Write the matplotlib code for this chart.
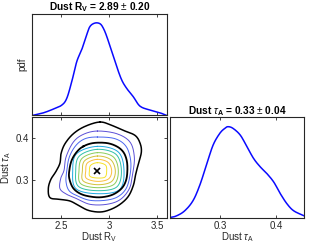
import numpy as np
import matplotlib
matplotlib.use("Agg")
import matplotlib.pyplot as plt

plt.rcParams['font.family'] = ['Liberation Sans', 'DejaVu Sans']
plt.rcParams['mathtext.fontset'] = 'custom'
plt.rcParams['mathtext.rm'] = 'Liberation Sans'
plt.rcParams['mathtext.it'] = 'Liberation Sans:italic'
plt.rcParams['mathtext.bf'] = 'Liberation Sans:bold'

# ---- 1D marginal: Dust R_V ----
rv_x = [2.203, 2.317, 2.421, 2.508, 2.560, 2.612, 2.664, 2.715, 2.767, 2.802, 2.853,
        2.905, 2.939, 2.975, 3.026, 3.078, 3.130, 3.182, 3.250, 3.320, 3.424, 3.528, 3.597]
rv_pdf = [0.0, 0.057, 0.139, 0.224, 0.370, 0.733, 1.168, 1.423, 1.749, 1.932, 2.004,
          1.989, 1.894, 1.714, 1.386, 1.060, 0.770, 0.587, 0.407, 0.202, 0.117, 0.057, 0.0]

# ---- 1D marginal: Dust tau_A ----
tau_x = [0.209, 0.221, 0.236, 0.251, 0.263, 0.275, 0.287, 0.299, 0.308, 0.314, 0.323,
         0.336, 0.348, 0.360, 0.372, 0.384, 0.396, 0.408, 0.420, 0.432, 0.451]
tau_pdf = [0.08, 0.25, 0.80, 1.90, 3.55, 5.75, 7.95, 9.24, 9.79, 9.98, 9.79,
           9.05, 7.78, 6.49, 5.58, 4.84, 3.93, 2.64, 1.54, 0.80, 0.25]

# ---- 2D joint contours (outlines, data units) ----
outer_x = [2.905, 3.026, 3.147, 3.268, 3.320, 3.334, 3.303, 3.275, 3.251, 3.199, 3.113, 3.009,
           2.905, 2.784, 2.681, 2.594, 2.490, 2.387, 2.369, 2.394, 2.449, 2.490, 2.501, 2.542,
           2.629, 2.750]
outer_y = [0.4388, 0.4309, 0.4190, 0.4071, 0.3889, 0.3675, 0.3398, 0.3145, 0.2883, 0.2622,
           0.2432, 0.2305, 0.2250, 0.2289, 0.2408, 0.2511, 0.2551, 0.2590, 0.2804, 0.3018,
           0.3216, 0.3414, 0.3636, 0.3873, 0.4111, 0.4285]

inner_x = [2.732, 2.836, 2.974, 3.078, 3.147, 3.182, 3.189, 3.175, 3.130, 3.044, 2.940, 2.836,
           2.715, 2.629, 2.587, 2.587, 2.611, 2.663]
inner_y = [0.3810, 0.3889, 0.3889, 0.3810, 0.3675, 0.3477, 0.3240, 0.3002, 0.2812, 0.2670,
           0.2606, 0.2606, 0.2670, 0.2812, 0.3042, 0.3240, 0.3477, 0.3675]

purple_x = [2.878, 3.078, 3.216, 3.261, 3.244, 3.209, 3.113, 2.974, 2.802, 2.663, 2.560, 2.490,
            2.497, 2.532, 2.553, 2.629, 2.732]
purple_y = [0.4174, 0.4111, 0.3913, 0.3557, 0.3161, 0.2804, 0.2543, 0.2432, 0.2432, 0.2567,
            0.2670, 0.2804, 0.3042, 0.3240, 0.3557, 0.3913, 0.4095]
blue_x = [2.878, 3.061, 3.175, 3.223, 3.216, 3.175, 3.085, 2.957, 2.802, 2.681, 2.587, 2.553,
          2.560, 2.587, 2.656, 2.750]
blue_y = [0.4032, 0.3992, 0.3810, 0.3477, 0.3121, 0.2804, 0.2606, 0.2527, 0.2527, 0.2622,
          0.2749, 0.2963, 0.3224, 0.3557, 0.3834, 0.3992]
cyan_x = [2.878, 3.095, 3.154, 3.106, 2.878, 2.656, 2.622, 2.663]
cyan_y = [0.3810, 0.3675, 0.3224, 0.2780, 0.2685, 0.2804, 0.3224, 0.3636]
teal_x = [2.878, 3.071, 3.127, 3.078, 2.878, 2.681, 2.653, 2.691]
teal_y = [0.3739, 0.3620, 0.3224, 0.2844, 0.2757, 0.2860, 0.3224, 0.3580]
green_x = [2.878, 3.044, 3.095, 3.050, 2.878, 2.705, 2.687, 2.719]
green_y = [0.3660, 0.3557, 0.3224, 0.2907, 0.2828, 0.2923, 0.3224, 0.3525]
yg_x = [2.878, 3.016, 3.064, 3.023, 2.878, 2.732, 2.722, 2.746]
yg_y = [0.3580, 0.3493, 0.3224, 0.2971, 0.2899, 0.2986, 0.3224, 0.3469]
orange_x = [2.878, 2.988, 3.026, 2.992, 2.878, 2.764, 2.757, 2.774]
orange_y = [0.3501, 0.3430, 0.3224, 0.3034, 0.2978, 0.3050, 0.3224, 0.3414]
yellow_x = [2.878, 2.961, 2.974, 2.957, 2.878, 2.802, 2.795, 2.808]
yellow_y = [0.3422, 0.3367, 0.3224, 0.3081, 0.3058, 0.3097, 0.3224, 0.3359]

colored_rings = [(purple_x, purple_y, '#5b4fd6'), (blue_x, blue_y, '#4a66f0'),
                 (cyan_x, cyan_y, '#1ea8e0'), (teal_x, teal_y, '#30c0a8'),
                 (green_x, green_y, '#8ccc5a'), (yg_x, yg_y, '#d2c23a'),
                 (orange_x, orange_y, '#fbbf3e'), (yellow_x, yellow_y, '#f5e228')]

best_rv, best_tau = 2.878, 0.3224

title_rv = r"Dust R$_{\mathbf{V}}$ = 2.89 $\pm$ 0.20"
title_tau = r"Dust $\tau_{\mathbf{A}}$ = 0.33 $\pm$ 0.04"
xlabel_rv = r"Dust R$_\mathrm{V}$"
ylabel_tau = r"Dust $\tau_\mathrm{A}$"
xlabel_tau = r"Dust $\tau_\mathrm{A}$"

rv_lim = (2.2, 3.6)
tau_lim = (0.21, 0.45)
rv_ticks = [2.5, 3, 3.5]
rv_ticklabels = ['2.5', '3', '3.5']
tau_ticks = [0.3, 0.4]
tau_ticklabels = ['0.3', '0.4']


def _cr(p0, p1, p2, p3, n):
    t = np.linspace(0, 1, n, endpoint=False)[:, None]
    return 0.5 * ((2 * p1) + (-p0 + p2) * t + (2 * p0 - 5 * p1 + 4 * p2 - p3) * t ** 2
                  + (-p0 + 3 * p1 - 3 * p2 + p3) * t ** 3)


def closed_curve(xs, ys, n=14):
    p = np.column_stack([xs, ys])
    m = len(p)
    out = [_cr(p[(i - 1) % m], p[i], p[(i + 1) % m], p[(i + 2) % m], n) for i in range(m)]
    out.append(p[:1])
    out = np.vstack(out)
    return out[:, 0], out[:, 1]


def open_curve(xs, ys, n=10):
    p = np.column_stack([xs, ys]).astype(float)
    m = len(p)
    ext = np.vstack([2 * p[0] - p[1], p, 2 * p[-1] - p[-2]])
    out = [_cr(ext[i], ext[i + 1], ext[i + 2], ext[i + 3], n) for i in range(m - 1)]
    out.append(p[-1:])
    out = np.vstack(out)
    return out[:, 0], out[:, 1]


DARK = '#262626'
FS = 7

fig = plt.figure(figsize=(3.24, 2.43), dpi=100)
ax_top = fig.add_axes([0.0988, 0.5247, 0.4167, 0.4177])
ax_joint = fig.add_axes([0.0988, 0.1016, 0.4167, 0.4156])
ax_right = fig.add_axes([0.5247, 0.1016, 0.4136, 0.4156])

for ax in (ax_top, ax_joint, ax_right):
    for s in ax.spines.values():
        s.set_color(DARK)
        s.set_linewidth(0.8)
    ax.tick_params(direction='in', length=2.5, width=0.6, colors=DARK, labelsize=FS,
                   top=True, right=True, pad=2)

# top marginal
sx, sy = open_curve(rv_x, rv_pdf)
ax_top.plot(sx, sy, color='#0a0aff', lw=1.1)
ax_top.set_xlim(*rv_lim)
ax_top.set_ylim(0, 2.2)
ax_top.set_xticks(rv_ticks)
ax_top.set_xticklabels([])
ax_top.set_yticks([])
ax_top.set_ylabel('pdf', fontsize=FS, color=DARK, labelpad=3)
ax_top.set_title(title_rv, fontsize=7.3, fontweight='bold', pad=2.5)

# joint
for xs, ys, c in colored_rings:
    cx, cy = closed_curve(xs, ys)
    ax_joint.plot(cx, cy, color=c, lw=0.7)
cx, cy = closed_curve(outer_x, outer_y)
ax_joint.plot(cx, cy, color='black', lw=1.1)
cx, cy = closed_curve(inner_x, inner_y)
ax_joint.plot(cx, cy, color='black', lw=1.3)
ax_joint.plot([best_rv], [best_tau], marker='x', color='black', ms=5, mew=1.2, ls='none')
ax_joint.set_xlim(*rv_lim)
ax_joint.set_ylim(*tau_lim)
ax_joint.set_xticks(rv_ticks)
ax_joint.set_xticklabels(rv_ticklabels)
ax_joint.set_yticks(tau_ticks)
ax_joint.set_yticklabels(tau_ticklabels)
ax_joint.set_xlabel(xlabel_rv, fontsize=FS, color=DARK, labelpad=-0.5)
ax_joint.set_ylabel(ylabel_tau, fontsize=FS, color=DARK, labelpad=2)

# right marginal
sx, sy = open_curve(tau_x, tau_pdf)
ax_right.plot(sx, sy, color='#0a0aff', lw=1.1)
ax_right.set_xlim(*tau_lim)
ax_right.set_ylim(0, 11)
ax_right.set_xticks(tau_ticks)
ax_right.set_xticklabels(tau_ticklabels)
ax_right.set_yticks([])
ax_right.set_xlabel(xlabel_tau, fontsize=FS, color=DARK, labelpad=-0.5)
ax_right.set_title(title_tau, fontsize=7.3, fontweight='bold', pad=2.5)

fig.savefig('out.png', dpi=100)
